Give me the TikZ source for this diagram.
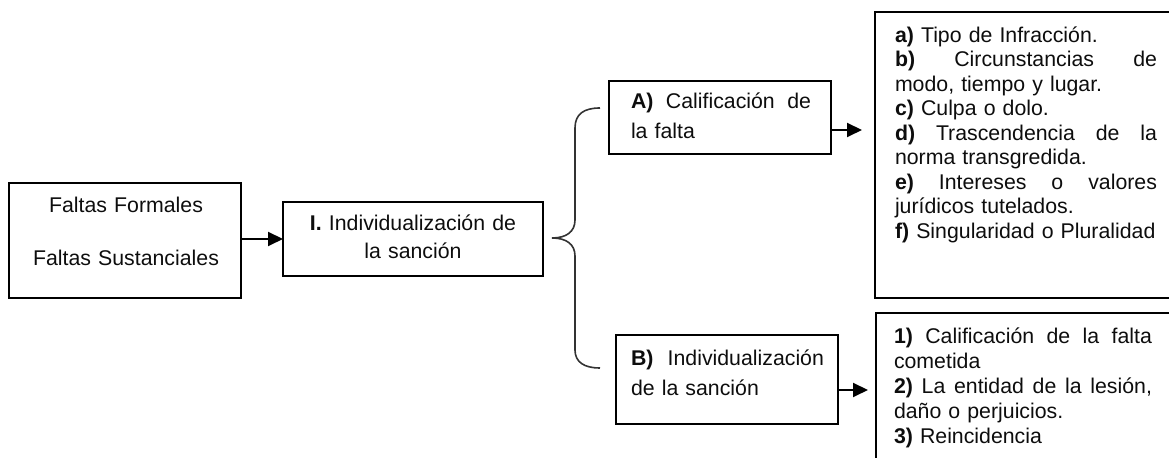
\documentclass[tikz,border=0pt]{standalone}
\usepackage{fontspec}
\setmainfont{Liberation Sans}
\usetikzlibrary{arrows.meta}
\begin{document}
\begin{tikzpicture}[x=0.5pt,y=-0.5pt,
  box/.style={draw=black,line width=0.9pt,inner sep=0pt,outer sep=0pt,anchor=north west},
  txt/.style={inner sep=0pt,outer sep=0pt,text=black!95},
  arr/.style={line width=1pt,-{Triangle[length=7.5pt,width=7pt]}},
  bracepath/.style={line width=0.8pt,draw=black!80}]
\useasboundingbox (0,0) rectangle (1169,458);

% boxes
\node[box,minimum width=116pt,minimum height=57.5pt] (faltas) at (9,183) {};
\node[box,minimum width=130pt,minimum height=37pt] (indiv) at (283,202) {};
\node[box,minimum width=111pt,minimum height=36.5pt] (calif) at (609,81) {};
\node[box,minimum width=111pt,minimum height=44.5pt] (indivB) at (616,335) {};
\node[box,minimum width=157.5pt,minimum height=143pt] (listA) at (875,12) {};
\node[box,minimum width=157pt,minimum height=78.5pt] (listB) at (876,313) {};

% texts
\node[txt,anchor=base,text width=116pt,align=center,font=\fontsize{10.65}{26.5}\selectfont] (tfaltas) at (126,212.5)
  {Faltas Formales\\Faltas Sustanciales};
\node[txt,anchor=base,text width=130pt,align=center,font=\fontsize{10.65}{14}\selectfont] (tindiv) at (413,230.5)
  {\textbf{I.} Individualización de\\la sanción};
\node[txt,anchor=base west,text width=90pt,align=left,font=\fontsize{10.65}{15}\selectfont] (tcalif) at (631,108.5)
  {\textbf{A)}\hfill Calificación\hfill de\\la falta};
\node[txt,anchor=base west,text width=104pt,align=left,font=\fontsize{10.65}{15}\selectfont] (tindivB) at (631,365.5)
  {\mbox{\textbf{B)}\ \ Individualización}\\de la sanción};
\node[txt,anchor=base west,text width=131pt,align=left,font=\fontsize{10.65}{12.25}\selectfont] (tlistA) at (895,42.5)
  {\textbf{a)} Tipo de Infracción.\\
   \textbf{b)}\hfill Circunstancias\hfill de\\
   modo, tiempo y lugar.\\
   \textbf{c)} Culpa o dolo.\\
   \textbf{d)}\hfill Trascendencia\hfill de\hfill la\\
   norma transgredida.\\
   \textbf{e)}\hfill Intereses\hfill o\hfill valores\\
   jurídicos tutelados.\\
   \textbf{f)} Singularidad o Pluralidad};
\node[txt,anchor=base west,text width=129pt,align=left,font=\fontsize{10.65}{12.5}\selectfont] (tlistB) at (894,343.5)
  {\textbf{1)}\hfill Calificación\hfill de\hfill la\hfill falta\\
   cometida\\
   \textbf{2)}\hfill La\hfill entidad\hfill de\hfill la\hfill lesión,\\
   daño o perjuicios.\\
   \textbf{3)} Reincidencia};

% arrows
\coordinate (aEnd) at (862,130);
\coordinate (bEnd) at (868,390);
\draw[arr] (indiv.west -| faltas.east) -- (indiv.west);
\draw[arr] (calif.east |- aEnd) -- (aEnd);
\draw[arr] (indivB.east |- bEnd) -- (bEnd);

% brace
\coordinate (braceTop) at (600,108);
\coordinate (braceTip) at (552,238);
\coordinate (braceBot) at (600,368);
\draw[bracepath] (braceTop) .. controls (584,108) and (575,114) .. (575,128)
  -- (575,220) .. controls (575,232) and (566,238) .. (braceTip)
  .. controls (566,238) and (575,244) .. (575,256)
  -- (575,350) .. controls (575,362) and (584,368) .. (braceBot);
\end{tikzpicture}
\end{document}
